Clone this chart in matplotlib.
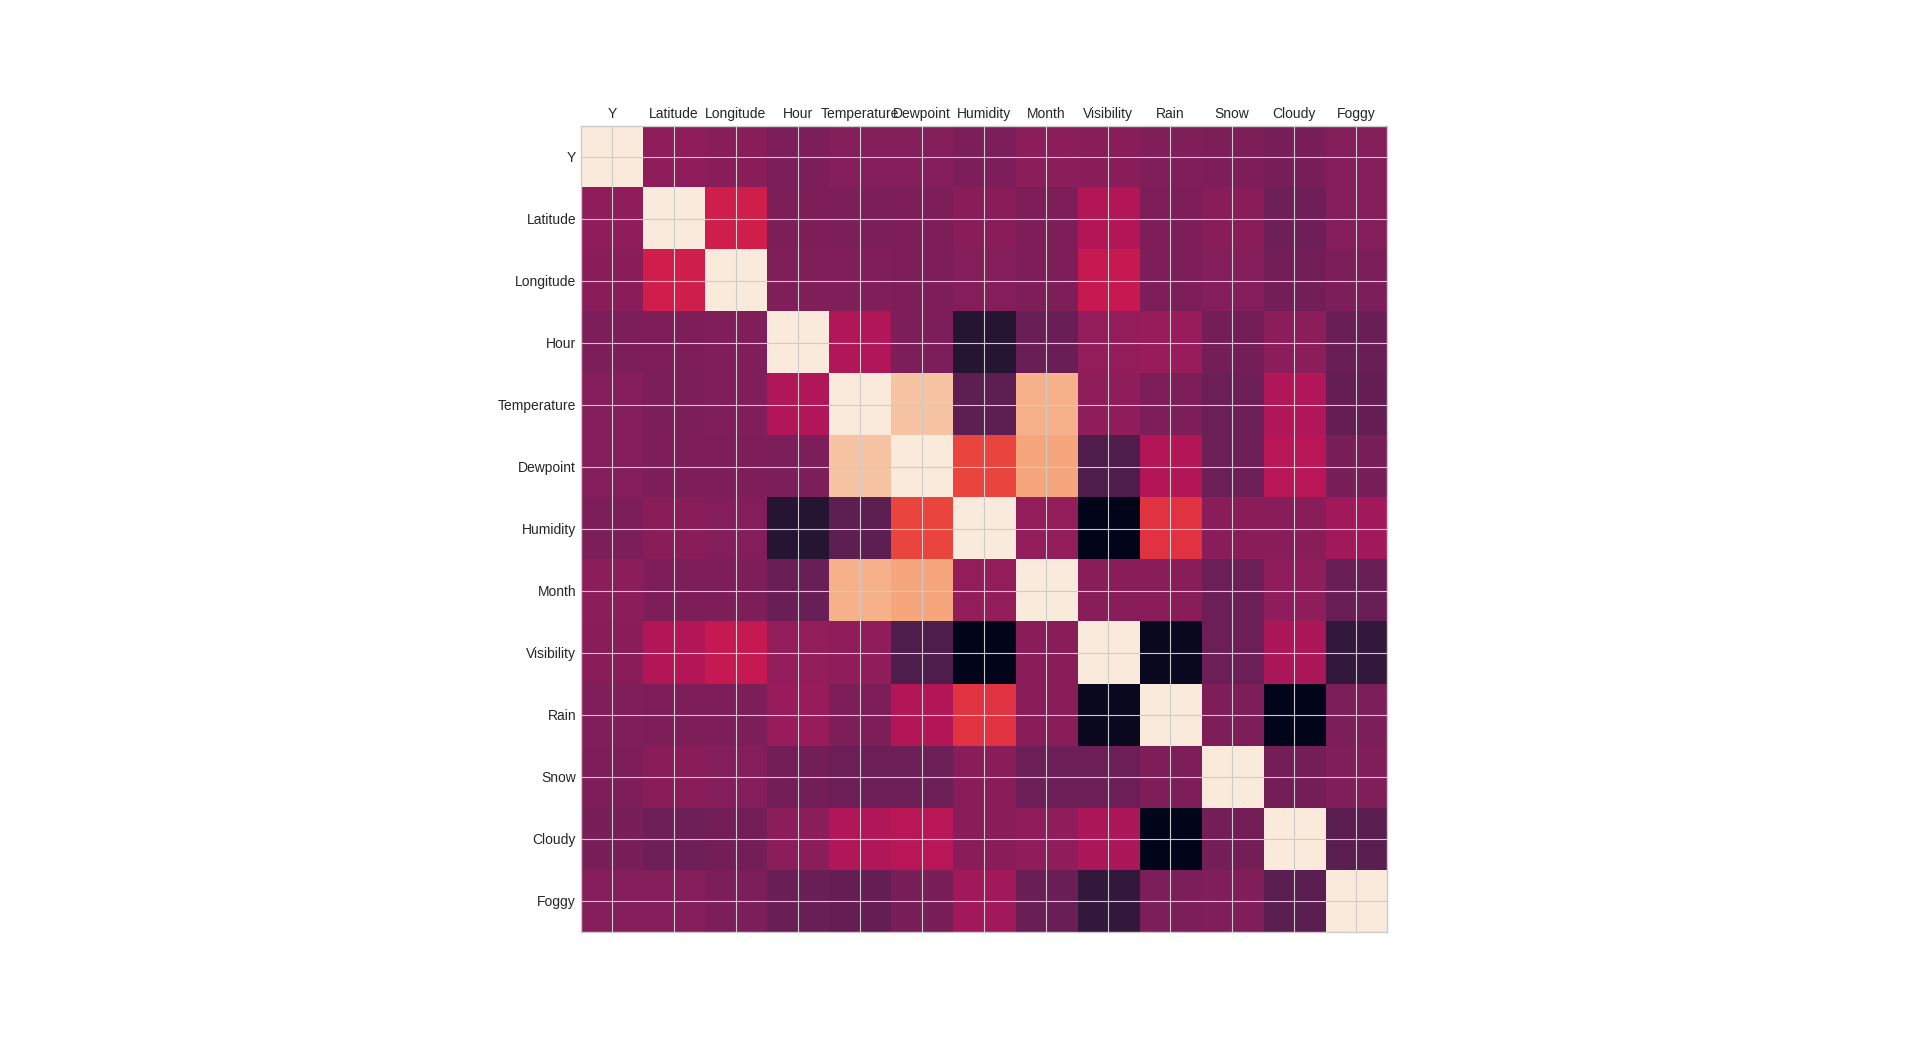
import matplotlib
matplotlib.use("Agg")
import matplotlib.pyplot as plt
import seaborn as sns
import numpy as np

labels = ["Y", "Latitude", "Longitude", "Hour", "Temperature", "Dewpoint",
          "Humidity", "Month", "Visibility", "Rain", "Snow", "Cloudy", "Foggy"]

row_y         = [1.00, 0.06, 0.04, -0.01, 0.02, 0.02, -0.01, 0.05, 0.04, 0.01, 0.00, -0.02, 0.02]
row_latitude  = [0.06, 1.00, 0.29, 0.00, -0.01, 0.00, 0.04, 0.00, 0.18, 0.00, 0.04, -0.05, 0.02]
row_longitude = [0.04, 0.29, 1.00, 0.01, 0.01, 0.00, 0.02, 0.00, 0.25, 0.00, 0.02, -0.03, -0.01]
row_hour      = [-0.01, 0.00, 0.01, 1.00, 0.17, -0.01, -0.32, -0.07, 0.07, 0.09, -0.03, 0.05, -0.07]
row_temp      = [0.02, -0.01, 0.01, 0.17, 1.00, 0.85, -0.11, 0.78, 0.06, 0.00, -0.06, 0.17, -0.09]
row_dewpoint  = [0.02, 0.00, 0.00, -0.01, 0.85, 1.00, 0.43, 0.74, -0.16, 0.18, -0.06, 0.20, -0.02]
row_humidity  = [-0.01, 0.04, 0.02, -0.32, -0.11, 0.43, 1.00, 0.07, -0.47, 0.37, 0.04, 0.04, 0.12]
row_month     = [0.05, 0.00, 0.00, -0.07, 0.78, 0.74, 0.07, 1.00, 0.04, 0.04, -0.06, 0.06, -0.07]
row_visib     = [0.04, 0.18, 0.25, 0.07, 0.06, -0.16, -0.47, 0.04, 1.00, -0.43, -0.06, 0.16, -0.27]
row_rain      = [0.01, 0.00, 0.00, 0.09, 0.00, 0.18, 0.37, 0.04, -0.43, 1.00, 0.00, -0.47, -0.01]
row_snow      = [0.00, 0.04, 0.02, -0.03, -0.06, -0.06, 0.04, -0.06, -0.06, 0.00, 1.00, -0.03, 0.01]
row_cloudy    = [-0.02, -0.05, -0.03, 0.05, 0.17, 0.20, 0.04, 0.06, 0.16, -0.47, -0.03, 1.00, -0.12]
row_foggy     = [0.02, 0.02, -0.01, -0.07, -0.09, -0.02, 0.12, -0.07, -0.27, -0.01, 0.01, -0.12, 1.00]

corr = np.array([row_y, row_latitude, row_longitude, row_hour, row_temp, row_dewpoint,
                 row_humidity, row_month, row_visib, row_rain, row_snow, row_cloudy, row_foggy])

plt.style.use("seaborn-v0_8-whitegrid")
fig, ax = plt.subplots(figsize=(19.2, 10.47), dpi=100)
cmap = sns.color_palette("rocket", as_cmap=True)
ax.matshow(corr, cmap=cmap)
ax.set_xticks(range(len(labels)))
ax.set_xticklabels(labels)
ax.set_yticks(range(len(labels)))
ax.set_yticklabels(labels)
fig.savefig("out.png", dpi=100)
